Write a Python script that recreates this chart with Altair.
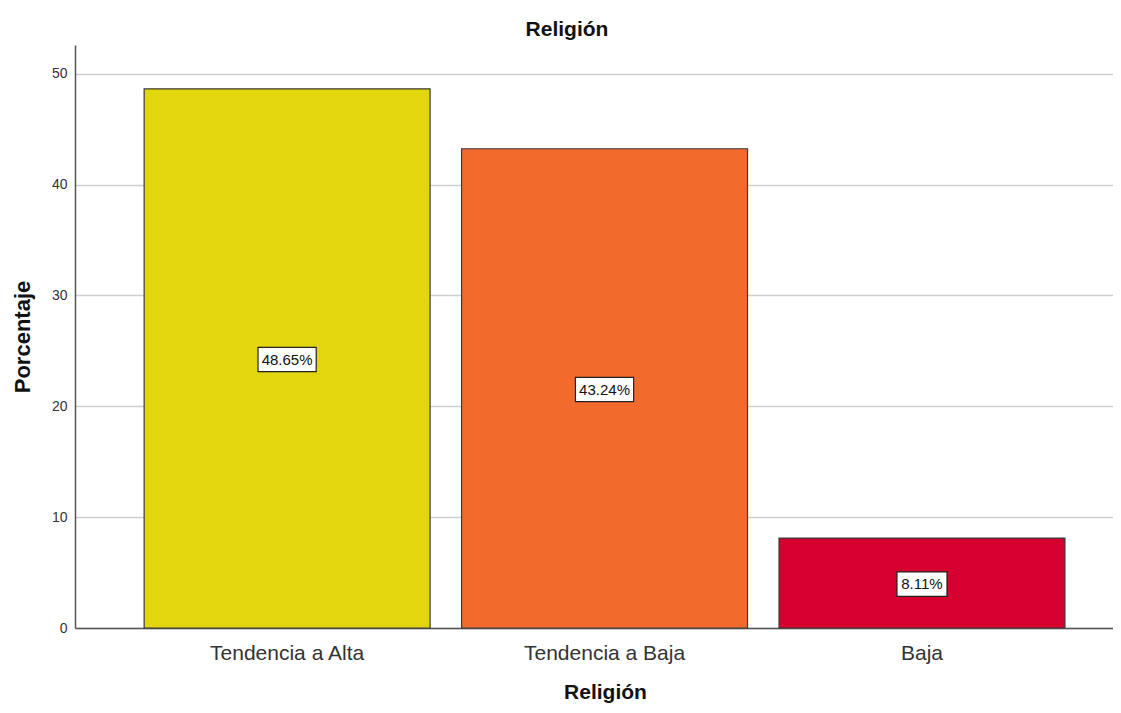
import altair as alt
import pandas as pd

categories = ["Tendencia a Alta", "Tendencia a Baja", "Baja"]
percentages = [48.65, 43.24, 8.11]
labels = ["48.65%", "43.24%", "8.11%"]
colors = ["#E2D70F", "#F26A2C", "#D6002F"]
y_ticks = [0, 10, 20, 30, 40, 50]

df = pd.DataFrame({"cat": categories, "pct": percentages, "label": labels})

FONT = "Liberation Sans"
W, H = 1038, 583

xscale = alt.Scale(domain=categories, paddingInner=0.0992, paddingOuter=0.1846, align=0.59)
yscale = alt.Scale(domain=[0, 52.6], nice=False)

x_enc = alt.X(
    "cat:N", sort=categories, scale=xscale,
    axis=alt.Axis(
        title="Religión", labelAngle=0, labelFont=FONT, labelFontSize=21, labelColor="#333333",
        labelPadding=14, ticks=False, domainColor="#555555", domainWidth=1.5,
        titleFont=FONT, titleFontSize=21, titleFontWeight="bold", titleColor="#111111",
        titlePadding=18, titleX=530, titleAlign="center", grid=False,
    ),
)
y_enc = alt.Y(
    "pct:Q", scale=yscale,
    axis=alt.Axis(
        values=y_ticks, title="Porcentaje", labelFont=FONT, labelFontSize=14, labelColor="#333333",
        labelPadding=8, ticks=False, domainColor="#555555", domainWidth=1.5,
        gridColor="#CFCFCF", gridWidth=1.5,
        titleFont=FONT, titleFontSize=22, titleFontWeight="bold", titleColor="#111111",
        titlePadding=17,
    ),
)

bars = alt.Chart(df).mark_bar(stroke="#3a3a3a", strokeWidth=1.2).encode(
    x=x_enc,
    y=y_enc,
    color=alt.Color("cat:N", scale=alt.Scale(domain=categories, range=colors), legend=None),
)

base = alt.Chart(df).transform_calculate(
    mid="datum.pct / 2 - 0.12",
    lo="datum.pct / 2 - 1.2",
    hi="datum.pct / 2 + 1.0",
)

boxes = base.mark_bar(
    color="white", stroke="#222222", strokeWidth=1.2,
    width=alt.ExprRef("length(datum.label) * 8.2 + 9"),
).encode(
    x=alt.X("cat:N", sort=categories, scale=xscale),
    y=alt.Y("lo:Q", scale=yscale),
    y2="hi:Q",
)

texts = base.mark_text(font=FONT, fontSize=15, color="#111111", baseline="middle").encode(
    x=alt.X("cat:N", sort=categories, scale=xscale),
    y=alt.Y("mid:Q", scale=yscale),
    text="label:N",
)

chart = alt.layer(bars, boxes, texts).properties(
    width=W, height=H,
    title=alt.TitleParams(
        "Religión", font=FONT, fontSize=21, fontWeight="bold", color="#111111",
        anchor="middle", baseline="bottom", offset=7, dx=-27, dy=23,
    ),
    autosize=alt.AutoSizeParams(type="none"),
    padding={"left": 67, "top": 37, "right": 0, "bottom": 77},
).configure_view(stroke=None)

chart.save("out.html", embed_options={"renderer": "svg", "actions": False})
